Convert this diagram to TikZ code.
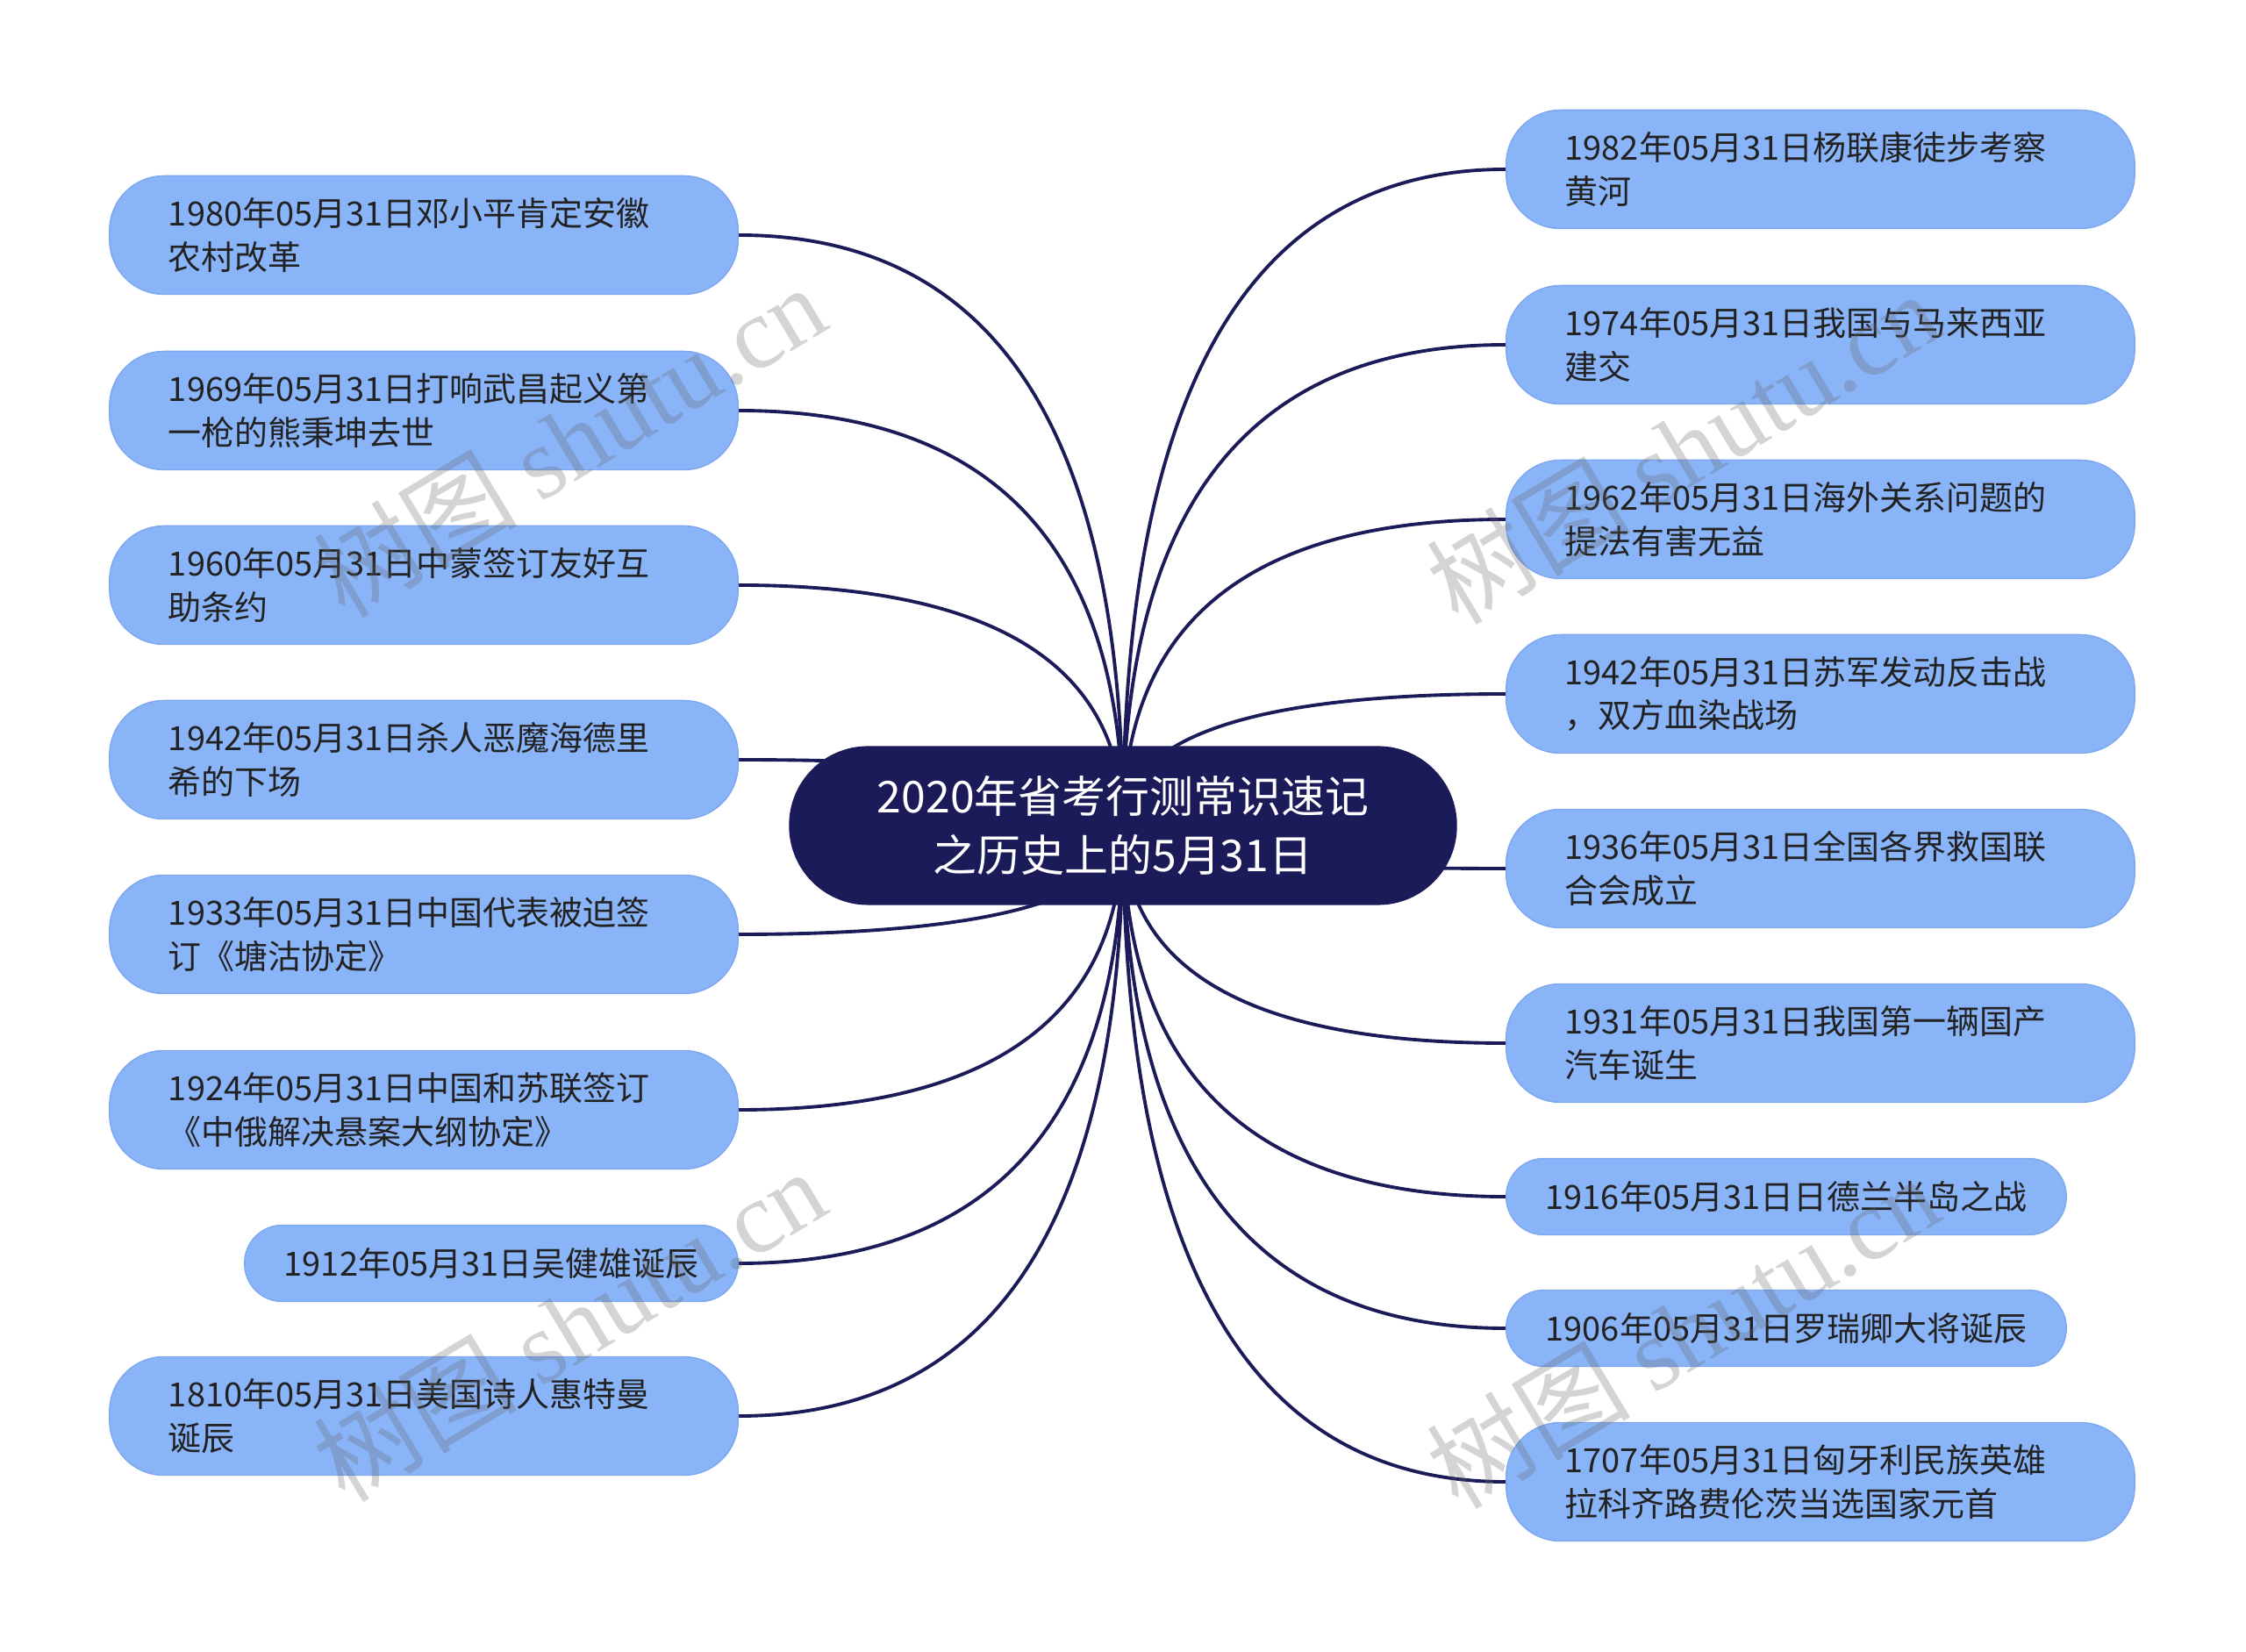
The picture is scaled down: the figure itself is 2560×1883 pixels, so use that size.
\documentclass[tikz,border=0pt]{standalone}
\usepackage{fontspec}
\setmainfont{Noto Sans CJK SC}
\newfontfamily\wmfont{Liberation Serif}
\usepackage{tikz}
\usetikzlibrary{positioning, calc, backgrounds}

\definecolor{navy}{HTML}{1C1B59}
\definecolor{leafblue}{HTML}{8AB4F8}
\definecolor{leafedge}{HTML}{7DA7EF}
\definecolor{leaftext}{HTML}{222222}

\tikzset{
    rootnode/.style={rectangle, rounded corners=0.9cm, fill=navy, text=white,
        font=\fontsize{14.2}{19}\selectfont, align=center,
        minimum width=7.61cm, minimum height=1.81cm},
    leafbase/.style={rectangle, fill=leafblue, draw=leafedge, line width=0.4pt,
        text=leaftext, font=\fontsize{10.8}{14}\selectfont, align=left},
    leaf/.style={leafbase, rounded corners=0.62cm, text width=5.82cm,
        inner xsep=0.67cm, minimum height=1.35cm},
    leafshort/.style={leafbase, rounded corners=0.43cm, inner xsep=0.45cm,
        minimum height=0.87cm},
    branch/.style={navy, line width=1.1pt,
        to path={.. controls ($(\tikztostart)!2/3!(\tikztostart |- \tikztotarget)$)
            and ($(\tikztotarget)!2/3!(\tikztostart |- \tikztotarget)$) .. (\tikztotarget)}},
    watermark/.style={text=black!60, opacity=0.28, rotate=31,
        font=\fontsize{33}{33}\selectfont}
}

\begin{document}
\begin{tikzpicture}[x=0.01cm, y=-0.01cm]
    \useasboundingbox (0,0) rectangle (2560,1883);
    % Centre
    \node[rootnode] (root) at (1280,941) {2020年省考行测常识速记\\之历史上的5月31日};
    % Left side
    \node[leaf, anchor=east] (l1980) at (842,268) {1980年05月31日邓小平肯定安徽\\农村改革};
    \node[leaf, anchor=east] (l1969) at (842,468) {1969年05月31日打响武昌起义第\\一枪的熊秉坤去世};
    \node[leaf, anchor=east] (l1960) at (842,667) {1960年05月31日中蒙签订友好互\\助条约};
    \node[leaf, anchor=east] (l1942) at (842,866) {1942年05月31日杀人恶魔海德里\\希的下场};
    \node[leaf, anchor=east] (l1933) at (842,1065) {1933年05月31日中国代表被迫签\\订《塘沽协定》};
    \node[leaf, anchor=east] (l1924) at (842,1265) {1924年05月31日中国和苏联签订\\《中俄解决悬案大纲协定》};
    \node[leafshort, anchor=east] (l1912) at (842,1440) {1912年05月31日吴健雄诞辰};
    \node[leaf, anchor=east] (l1810) at (842,1614) {1810年05月31日美国诗人惠特曼\\诞辰};
    % Right side
    \node[leaf, anchor=west] (r1982) at (1716,193) {1982年05月31日杨联康徒步考察\\黄河};
    \node[leaf, anchor=west] (r1974) at (1716,393) {1974年05月31日我国与马来西亚\\建交};
    \node[leaf, anchor=west] (r1962) at (1716,592) {1962年05月31日海外关系问题的\\提法有害无益};
    \node[leaf, anchor=west] (r1942) at (1716,791) {1942年05月31日苏军发动反击战\\，双方血染战场};
    \node[leaf, anchor=west] (r1936) at (1716,990) {1936年05月31日全国各界救国联\\合会成立};
    \node[leaf, anchor=west] (r1931) at (1716,1189) {1931年05月31日我国第一辆国产\\汽车诞生};
    \node[leafshort, anchor=west] (r1916) at (1716,1364) {1916年05月31日日德兰半岛之战};
    \node[leafshort, anchor=west] (r1906) at (1716,1514) {1906年05月31日罗瑞卿大将诞辰};
    \node[leaf, anchor=west] (r1707) at (1716,1689) {1707年05月31日匈牙利民族英雄\\拉科齐路费伦茨当选国家元首};
    % Branches behind the nodes
    \begin{scope}[on background layer]
        \draw[branch] (root.center) to (l1980.east);
        \draw[branch] (root.center) to (l1969.east);
        \draw[branch] (root.center) to (l1960.east);
        \draw[branch] (root.center) to (l1942.east);
        \draw[branch] (root.center) to (l1933.east);
        \draw[branch] (root.center) to (l1924.east);
        \draw[branch] (root.center) to (l1912.east);
        \draw[branch] (root.center) to (l1810.east);
        \draw[branch] (root.center) to (r1982.west);
        \draw[branch] (root.center) to (r1974.west);
        \draw[branch] (root.center) to (r1962.west);
        \draw[branch] (root.center) to (r1942.west);
        \draw[branch] (root.center) to (r1936.west);
        \draw[branch] (root.center) to (r1931.west);
        \draw[branch] (root.center) to (r1916.west);
        \draw[branch] (root.center) to (r1906.west);
        \draw[branch] (root.center) to (r1707.west);
    \end{scope}
    % Watermarks
    \node[watermark] (wm1) at (649,502) {树图 {\wmfont shutu.cn}};
    \node[watermark] (wm2) at (1918,510) {树图 {\wmfont shutu.cn}};
    \node[watermark] (wm3) at (649,1510) {树图 {\wmfont shutu.cn}};
    \node[watermark] (wm4) at (1918,1518) {树图 {\wmfont shutu.cn}};
\end{tikzpicture}
\end{document}
